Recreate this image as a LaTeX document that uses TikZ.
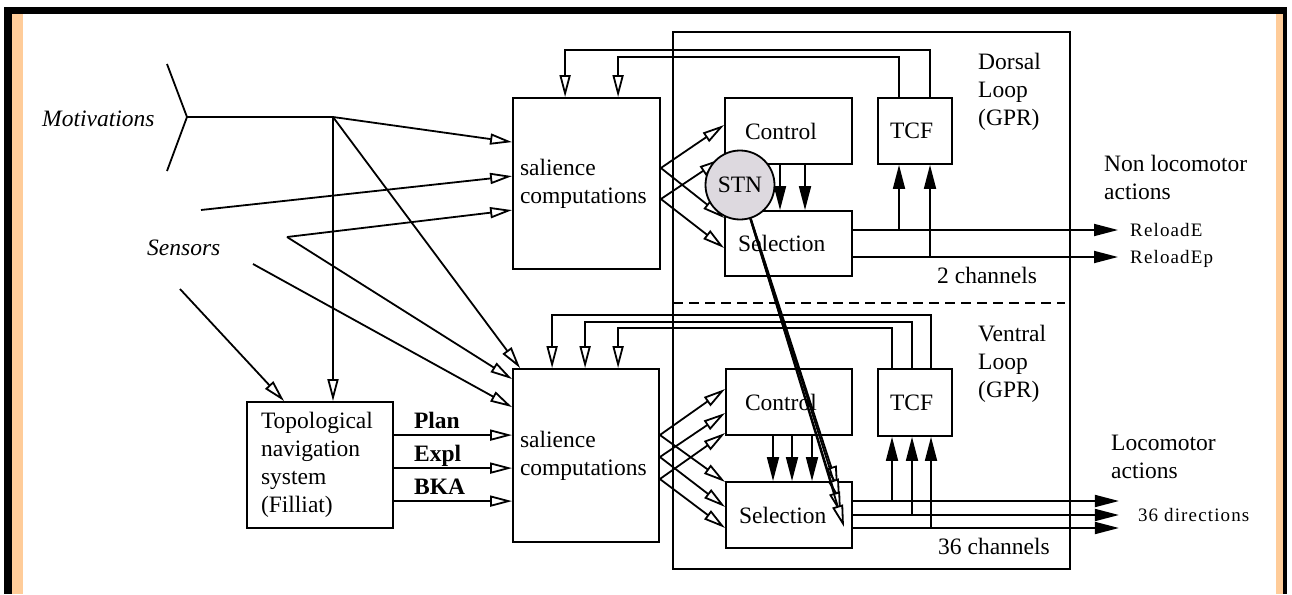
\documentclass[tikz,border=0pt]{standalone}
\usepackage{fontspec}
\setmainfont{Liberation Serif}
\usetikzlibrary{arrows.meta,calc}
\definecolor{bandorange}{RGB}{255,204,153}
\definecolor{stngray}{RGB}{221,217,223}
\tikzset{
  ln/.style={line width=1.8pt},
  blk/.style={draw, ln, inner sep=0pt, inner ysep=0pt, align=left},
  oarr/.style={ln, -{Triangle[fill=white, length=22pt, width=11pt]}},
  farr/.style={ln, -{Triangle[length=24pt, width=12pt]}},
  small/.style={inner sep=0pt, font=\fontsize{19}{22}\selectfont\addfontfeature{LetterSpace=6}},
  lbl/.style={inner sep=0pt, align=left}
}
\begin{document}
\begin{tikzpicture}[x=1pt,y=-1pt,font=\fontsize{23.5}{28}\selectfont]
\useasboundingbox (0,0) rectangle (1292,594);
\fill[black] (4,7) rectangle (1287,14);
\fill[black] (4,7) rectangle (12,594);
\fill[black] (1283,7) rectangle (1287,594);
\fill[bandorange] (12,14) rectangle (23,594);
\fill[bandorange] (1276,14) rectangle (1283,594);

\node[draw, line width=1.5pt, inner sep=0pt, minimum width=397pt, minimum height=537pt] (gpr) at (871.5,300.5) {};
\coordinate (split) at (673,303);
\draw[ln, dash pattern=on 10pt off 6pt] (split) -- ([xshift=-6pt]split -| gpr.east);

\node[blk, text width=133pt, inner xsep=7pt, minimum height=171pt] (salU) at (586.5,183.5) {salience\\computations};
\node[blk, text width=132pt, inner xsep=7pt, minimum height=173pt] (salL) at (586,455.5) {salience\\computations};
\node[blk, text width=118pt, inner xsep=14pt, minimum height=126pt] (topo) at (320,465) {Topological\\navigation\\system\\(Filliat)};
\node[blk, text width=87pt, inner xsep=20pt, minimum height=66pt] (ctlU) at (788.5,131) {Control};
\node[blk, text width=101pt, inner xsep=13pt, minimum height=65pt] (selU) at (788.5,243.5) {Selection};
\node[blk, text width=50pt, inner xsep=12pt, minimum height=66pt] (tcfU) at (915,131) {TCF};
\node[blk, text width=88pt, inner xsep=19pt, minimum height=66pt] (ctlL) at (789,402) {Control};
\node[blk, text width=100pt, inner xsep=13pt, minimum height=66pt] (selL) at (789,515) {Selection};
\node[blk, text width=50pt, inner xsep=12pt, minimum height=67pt] (tcfL) at (915,402.5) {TCF};

\node[lbl, anchor=base west] (motiv) at (42,126) {\itshape Motivations};
\node[lbl, anchor=base west] (sens) at (147,255) {\itshape Sensors};
\node[lbl, anchor=west] (dorsal) at (978,91.5) {Dorsal\\Loop\\(GPR)};
\node[lbl, anchor=west] (ventral) at (978,364) {Ventral\\Loop\\(GPR)};
\node[lbl, anchor=west] (nonloco) at (1104,177.5) {Non locomotor\\actions};
\node[lbl, anchor=west] (loco) at (1111,456.5) {Locomotor\\actions};
\node[lbl, anchor=base west] (chU) at (937,283) {2 channels};
\node[lbl, anchor=base west] (chL) at (938,554) {36 channels};

\coordinate (mtop) at (167,64);
\coordinate (mfork) at (187,117);
\coordinate (mbot) at (167,171);
\coordinate (mjoin) at (333,117);
\coordinate (sa) at (201,210);
\coordinate (sb) at (287,237);
\coordinate (sc) at (253,264);
\coordinate (sd) at (180,289);
\draw[ln] (mtop) -- (mfork) -- (mbot);
\draw[ln] (mfork) -- (mjoin);
\draw[oarr] (mjoin) -- ($(salU.north west)+(0,45)$);
\draw[oarr] (sa) -- ($(salU.north west)+(0,79)$);
\draw[oarr] (sb) -- ($(salU.north west)+(0,113)$);
\draw[oarr] (sb) -- ($(salL.north west)+(0,11)$);
\draw[oarr] (sc) -- ($(salL.north west)+(0,39)$);
\draw[oarr] (mjoin) -- ($(salL.north west)+(8,0)$);
\draw[oarr] (mjoin) -- (mjoin |- topo.north);
\draw[oarr] (sd) -- ($(topo.north west)+(38,0)$);

\foreach \name/\dy in {Plan/67, Expl/100, BKA/133} {
  \coordinate (in\name) at ($(salL.north west)+(0,\dy)$);
  \draw[oarr] (in\name -| topo.east) -- (in\name);
  \node[lbl, anchor=base west, font=\fontsize{23.5}{28}\selectfont\bfseries] (lb\name) at ($(in\name -| topo.east)+(20,-6.5)$) {\name};
}

\coordinate (ua) at ($(salU.east)+(0,-15.5)$);
\coordinate (ub) at ($(salU.east)+(0,15.5)$);
\draw[oarr] (ua) -- ($(ctlU.west)+(0,-6)$);
\draw[oarr] (ua) -- ($(selU.west)+(0,-25.5)$);
\draw[oarr] (ub) -- ($(ctlU.south west)+(-3,-6)$);
\draw[oarr] (ub) -- ($(selU.west)+(0,4.5)$);
\foreach \dy/\cy/\sy in {-20.5/-13/-33, 1.5/11/-8, 23.5/31/13} {
  \draw[oarr] ($(salL.east)+(0,\dy)$) -- ($(ctlL.west)+(0,\cy)$);
  \draw[oarr] ($(salL.east)+(0,\dy)$) -- ($(selL.west)+(0,\sy)$);
}

\node[circle, draw, fill=stngray, line width=1.8pt, minimum size=69pt, inner sep=0pt] (stn) at (740,185) {STN};

\foreach \dx in {-8.5,16.5}
  \draw[farr] ($(ctlU.south)+(\dx,0)$) -- ($(selU.north)+(\dx,0)$);
\foreach \dx in {-16,3,23}
  \draw[farr] ($(ctlL.south)+(\dx,0)$) -- ($(selL.north)+(\dx,0)$);

\foreach \i/\px/\py in {1/838/488, 2/840/501, 3/841/514, 4/844/527} {
  \coordinate (stnout\i) at (\px,\py);
  \draw[oarr] (stn) -- (stnout\i);
}

\coordinate (reloadE) at (1118,230);
\coordinate (reloadEp) at (1118,257);
\draw[farr] (selU.east |- reloadE) -- (reloadE);
\draw[farr] (selU.east |- reloadEp) -- (reloadEp);
\node[small, anchor=base west] (lbE) at ($(reloadE)+(12,6.5)$) {ReloadE};
\node[small, anchor=base west] (lbEp) at ($(reloadEp)+(12,6.5)$) {ReloadEp};
\coordinate (tu1) at ($(tcfU.south)+(-16,0)$);
\coordinate (tu2) at ($(tcfU.south)+(15,0)$);
\draw[farr] (tu1 |- reloadE) -- (tu1);
\draw[farr] (tu2 |- reloadEp) -- (tu2);
\draw[oarr] (tcfU.north -| tu1) -- ++(0,-40) -| ($(salU.north west)+(106,0)$);
\draw[oarr] (tcfU.north -| tu2) -- ++(0,-47) -| ($(salU.north west)+(53,0)$);

\foreach \i/\dy/\tx/\up/\sx in {1/-14/-23/40/106, 2/0/-3/46/73, 3/13/16/53/40} {
  \coordinate (dir\i) at ($(selL.east)+(266,\dy)$);
  \coordinate (tl\i) at ($(tcfL.south)+(\tx,0)$);
  \draw[farr] (selL.east |- dir\i) -- (dir\i);
  \draw[farr] (tl\i |- dir\i) -- (tl\i);
  \draw[oarr] (tcfL.north -| tl\i) -- ++(0,-\up) -| ($(salL.north west)+(\sx,0)$);
}
\node[small, anchor=base west] (lbDir) at ($(dir2)+(19,6.5)$) {36 directions};
\end{tikzpicture}
\end{document}
